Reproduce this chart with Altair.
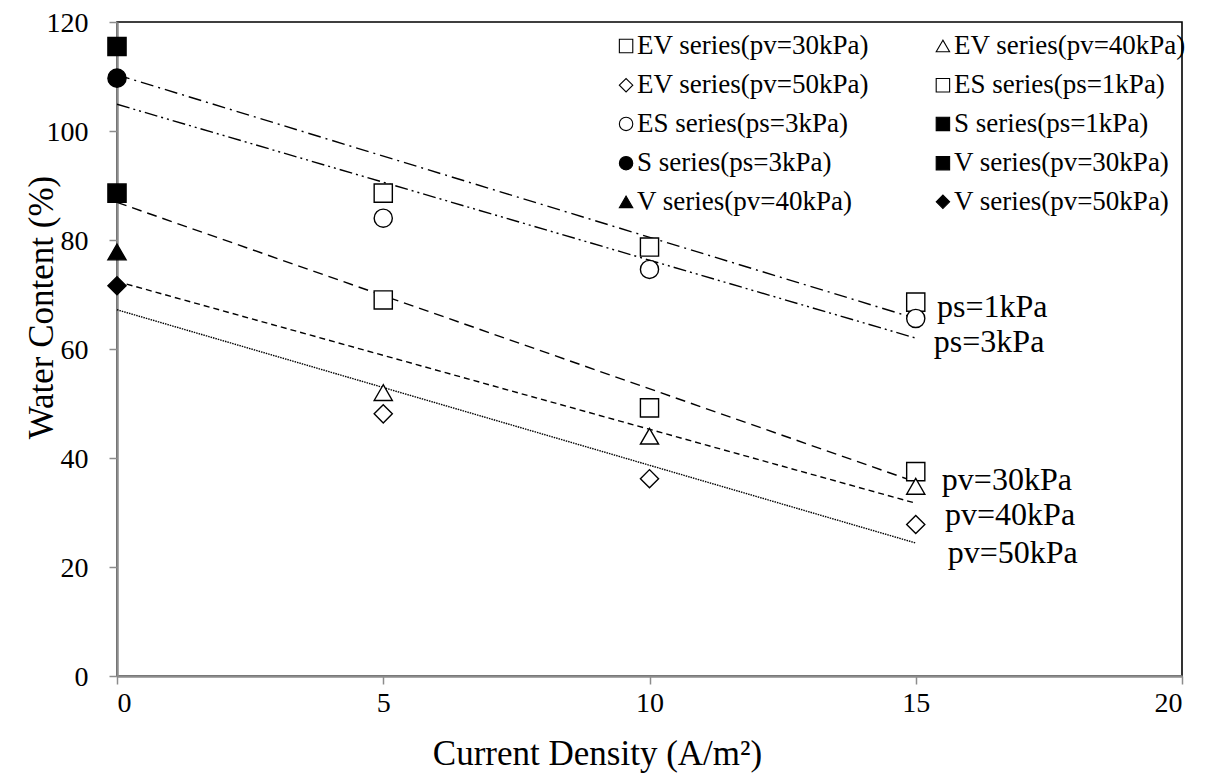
import altair as alt
import pandas as pd

# ---------------- data ----------------
test_x = [5, 10, 15]          # current density of the EV / ES tests
start_x = [0]                 # current density of the S / V tests

ev_pv30 = [69.0, 49.2, 37.5]
ev_pv40 = [52.0, 44.0, 34.8]
ev_pv50 = [48.1, 36.2, 27.8]
es_ps1 = [88.6, 78.7, 68.6]
es_ps3 = [84.0, 74.6, 65.6]
s_ps1 = [115.5]
s_ps3 = [109.7]
v_pv30 = [88.6]
v_pv40 = [77.8]
v_pv50 = [71.6]

series_names = [
    "EV series(pv=30kPa)", "EV series(pv=40kPa)",
    "EV series(pv=50kPa)", "ES series(ps=1kPa)",
    "ES series(ps=3kPa)", "S series(ps=1kPa)",
    "S series(ps=3kPa)", "V series(pv=30kPa)",
    "V series(pv=40kPa)", "V series(pv=50kPa)",
]
series_x = [test_x, test_x, test_x, test_x, test_x,
            start_x, start_x, start_x, start_x, start_x]
series_y = [ev_pv30, ev_pv40, ev_pv50, es_ps1, es_ps3,
            s_ps1, s_ps3, v_pv30, v_pv40, v_pv50]

# trend lines (value at x=0 and at x=15)
trend_names = ["ps=1kPa", "ps=3kPa", "pv=30kPa", "pv=40kPa", "pv=50kPa"]
trend_x = [0, 15]
trend_y0 = [110.3, 104.9, 86.9, 72.4, 67.2]
trend_y1 = [65.6, 62.0, 35.6, 31.7, 24.4]

# label annotations next to the lines
ann_text = ["ps=1kPa", "ps=3kPa", "pv=30kPa", "pv=40kPa", "pv=50kPa"]
ann_x = [15.40, 15.34, 15.49, 15.55, 15.60]
ann_y = [67.7, 61.3, 36.0, 29.5, 22.6]

# legend grid (two columns, five rows, in data units of the chart)
legend_col_x = [9.56, 15.51]
legend_row_y = [115.6, 108.4, 101.3, 94.1, 87.0]

# ---------------- tables ----------------
pts = pd.DataFrame(
    [{"series": n, "marker": n, "x": xx, "y": yy}
     for n, xs, ys in zip(series_names, series_x, series_y)
     for xx, yy in zip(xs, ys)]
)
lines = pd.DataFrame(
    [{"trend": n, "x": xx, "y": yy}
     for n, a, b in zip(trend_names, trend_y0, trend_y1)
     for xx, yy in zip(trend_x, [a, b])]
)
ann = pd.DataFrame({"text": ann_text, "x": ann_x, "y": ann_y})
leg = pd.DataFrame({
    "series": series_names,
    "x": [legend_col_x[i % 2] for i in range(len(series_names))],
    "y": [legend_row_y[i // 2] for i in range(len(series_names))],
})

FONT = "Liberation Serif"
xscale = alt.Scale(domain=[0, 20], nice=False)
yscale = alt.Scale(domain=[0, 120], nice=False)
shape_scale = alt.Scale(domain=series_names,
                        range=["square", "triangle-up", "diamond", "square", "circle",
                               "square", "circle", "square", "triangle-up", "diamond"])
fill_scale = alt.Scale(domain=series_names,
                       range=["white", "white", "white", "white", "white",
                              "black", "black", "black", "black", "black"])

xaxis = alt.Axis(values=[0, 5, 10, 15, 20], title="Current Density (A/m²)",
                 labelPadding=5, titleX=480, titleY=77, titleBaseline="middle")
yaxis = alt.Axis(values=[0, 20, 40, 60, 80, 100, 120], title="Water Content (%)",
                 labelPadding=21, labelOffset=1, titleX=-76, titleY=285, titleBaseline="middle")

line_layer = alt.Chart(lines).mark_line(color="black").encode(
    x=alt.X("x:Q", scale=xscale, axis=xaxis),
    y=alt.Y("y:Q", scale=yscale, axis=yaxis),
    strokeDash=alt.StrokeDash(
        "trend:N", legend=None,
        scale=alt.Scale(domain=trend_names,
                        range=[[13, 5, 2, 5], [13, 4, 2, 4, 2, 4], [10, 6], [6, 4], [1.5, 1]]),
    ),
    strokeWidth=alt.StrokeWidth(
        "trend:N", legend=None,
        scale=alt.Scale(domain=trend_names, range=[1.4, 1.4, 1.4, 1.4, 1.0]),
    ),
)

point_layer = alt.Chart(pts).mark_point(filled=True, stroke="black", strokeWidth=1.4, opacity=1).encode(
    x=alt.X("x:Q", scale=xscale),
    y=alt.Y("y:Q", scale=yscale),
    shape=alt.Shape("series:N", legend=None, scale=shape_scale),
    fill=alt.Fill("series:N", legend=None, scale=fill_scale),
    size=alt.Size(
        "marker:N", legend=None,
        scale=alt.Scale(domain=series_names,
                        range=[330, 330, 260, 190, 330, 200, 380, 420, 380, 340]),
    ),
)

legend_symbols = alt.Chart(leg).mark_point(filled=True, stroke="black", strokeWidth=1.1, opacity=1).encode(
    x=alt.X("x:Q", scale=xscale),
    y=alt.Y("y:Q", scale=yscale),
    shape=alt.Shape("series:N", legend=None, scale=shape_scale),
    fill=alt.Fill("series:N", legend=None, scale=fill_scale),
    size=alt.value(180),
)

legend_labels = alt.Chart(leg).mark_text(
    align="left", baseline="middle", font=FONT, fontSize=27, color="black", dx=11
).encode(
    x=alt.X("x:Q", scale=xscale),
    y=alt.Y("y:Q", scale=yscale),
    text="series:N",
)

text_layer = alt.Chart(ann).mark_text(
    align="left", baseline="middle", font=FONT, fontSize=32, color="black"
).encode(
    x=alt.X("x:Q", scale=xscale),
    y=alt.Y("y:Q", scale=yscale),
    text="text:N",
)

chart = (
    alt.layer(line_layer, point_layer, text_layer, legend_symbols, legend_labels)
    .properties(
        width=1065, height=654,
        autosize=alt.AutoSizeParams(type="none"),
        padding={"left": 109, "top": 14, "right": 15, "bottom": 98},
        background="white",
    )
    .configure(font=FONT)
    .configure_view(stroke="black", strokeWidth=1.6)
    .configure_axis(
        grid=False, domainColor="#8c8c8c", domainWidth=2.5, tickColor="#8c8c8c",
        tickWidth=1.5, tickSize=8, labelFont=FONT, labelFontSize=28, labelColor="black",
        titleFont=FONT, titleFontSize=35, titleFontWeight="normal", titleColor="black",
        zindex=1,
    )
)

chart.save("out.html", embed_options={"renderer": "svg", "actions": False})
